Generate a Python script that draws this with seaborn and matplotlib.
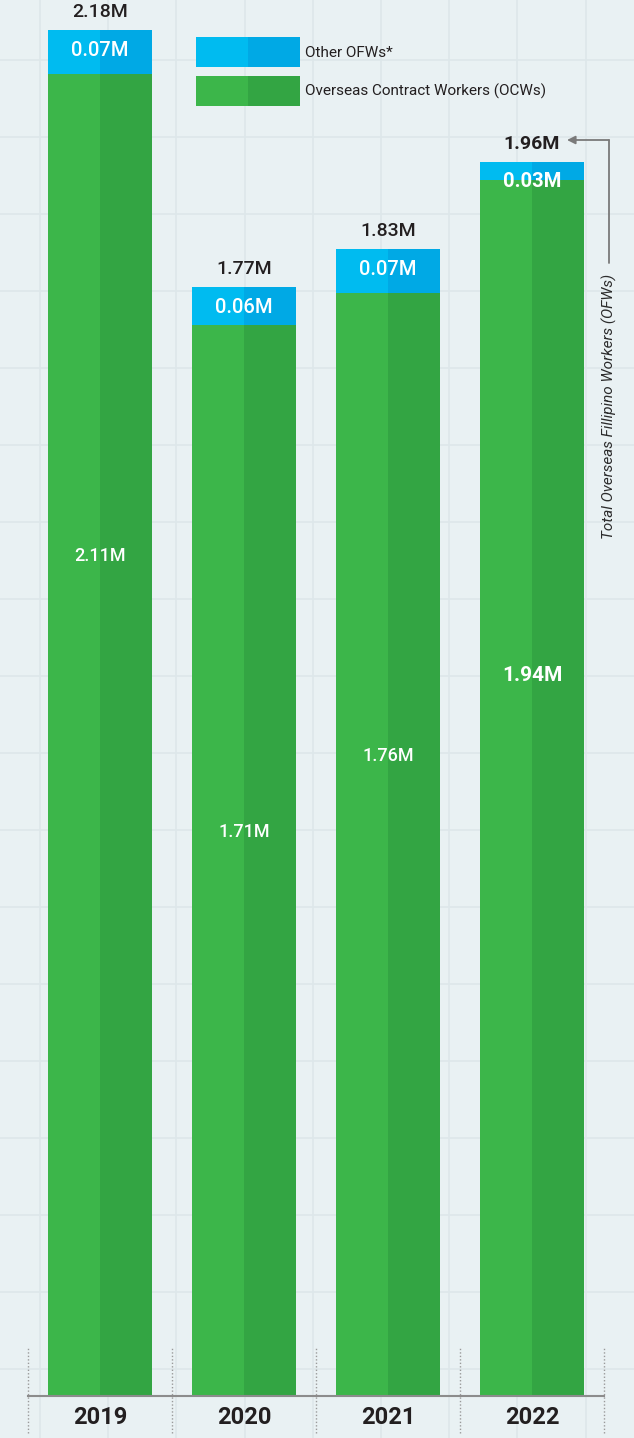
import numpy as np
import pandas as pd
import matplotlib
matplotlib.use("Agg")
import matplotlib.pyplot as plt
import seaborn as sns
from matplotlib.patches import Patch
from matplotlib.legend_handler import HandlerTuple

# ---------------- data ----------------
years = ["2019", "2020", "2021", "2022"]
ocw = [2.11, 1.71, 1.76, 1.94]          # Overseas Contract Workers (M)
other = [0.07, 0.06, 0.07, 0.03]        # Other OFWs (M)
totals = [2.18, 1.77, 1.83, 1.96]       # Total OFWs (M)
legend_labels = ["Other OFWs*", "Overseas Contract Workers (OCWs)"]
side_title = "Total Overseas Fillipino Workers (OFWs)"

# ---------------- style ----------------
W, H, DPI = 634, 1438, 100
BG = "#e9f1f3"
GRID = "#dde7ea"
GREEN_L, GREEN_D = "#3cb64a", "#33a543"
BLUE_L, BLUE_D = "#00bbf0", "#00a9e5"
DARK = "#231f20"
FONT = ["Roboto", "DejaVu Sans"]
OCW_LABEL_FRAC = [0.635, 0.526, 0.580, 0.593]

sns.set_theme(style="white")
plt.rcParams["font.family"] = FONT

fig = plt.figure(figsize=(W / DPI, H / DPI), dpi=DPI)
fig.patch.set_facecolor(BG)

# background grid (decorative, pixel space)
bg = fig.add_axes([0, 0, 1, 1], zorder=0)
bg.set_facecolor(BG)
bg.set_xlim(0, W)
bg.set_ylim(H, 0)
for gx in np.arange(40, W, 68.2):
    bg.axvline(gx, color=GRID, lw=1.2)
for gy in np.arange(60, H, 77.0):
    bg.axhline(gy, color=GRID, lw=1.2)
bg.set_axis_off()

# main axes: x from 28px to 604px, baseline at 1396px
px_per_m = 626.6
base_px = 1396
ax = fig.add_axes([28 / W, (H - base_px) / H, 576 / W, base_px / H], zorder=1)
ax.set_facecolor("none")

stack = [o + t for o, t in zip(ocw, other)]
halves = ["L", "R"]
df_top = pd.DataFrame({"year": np.repeat(years, 2), "half": halves * len(years),
                       "value": np.repeat(stack, 2)})
df_ocw = pd.DataFrame({"year": np.repeat(years, 2), "half": halves * len(years),
                       "value": np.repeat(ocw, 2)})

sns.barplot(data=df_top, x="year", y="value", hue="half", hue_order=halves,
            palette=[BLUE_L, BLUE_D], width=0.72, gap=0, dodge=True,
            saturation=1, linewidth=0, legend=False, ax=ax, errorbar=None)
sns.barplot(data=df_ocw, x="year", y="value", hue="half", hue_order=halves,
            palette=[GREEN_L, GREEN_D], width=0.72, gap=0, dodge=True,
            saturation=1, linewidth=0, legend=False, ax=ax, errorbar=None)

ax.set_xlim(-0.5, 3.5)
ax.set_ylim(0, base_px / px_per_m)
ax.set_xlabel("")
ax.set_ylabel("")
ax.set_yticks([])
for s in ["top", "left", "right"]:
    ax.spines[s].set_visible(False)
ax.spines["bottom"].set_color("#8c8c8c")
ax.spines["bottom"].set_linewidth(1.5)
ax.tick_params(axis="x", length=0, pad=7, labelsize=17, labelcolor=DARK)
for lbl in ax.get_xticklabels():
    lbl.set_fontweight("bold")
    lbl.set_family(FONT)

# dotted separators
ax.vlines(np.arange(-0.5, 4.0, 1.0), -37 / px_per_m, 49 / px_per_m,
          colors="#9a9a9a", linestyles=(0, (1, 1.5)), lw=1, clip_on=False)

# labels
for i, y in enumerate(years):
    bold = (y == "2022")
    ax.annotate(f"{totals[i]:.2f}M", (i, stack[i]), xytext=(0, 13), textcoords="offset points",
                ha="center", va="center", fontsize=14, color=DARK,
                fontweight="bold" if bold else "medium", annotation_clip=False)
    ax.annotate(f"{other[i]:.2f}M", (i, stack[i]), xytext=(0, -14.5), textcoords="offset points",
                ha="center", va="center", fontsize=14.5, color="white",
                fontweight="bold" if bold else "medium")
    ax.text(i, ocw[i] * OCW_LABEL_FRAC[i], f"{ocw[i]:.2f}M", ha="center", va="center",
            fontsize=15 if bold else 13, color="white",
            fontweight="bold" if bold else "medium")

# annotation arrow and side title
y_lab = (base_px - 140) / px_per_m
x_corner = 3 + (609 - 532) / 144
ax.plot([x_corner, x_corner], [y_lab, (base_px - 263) / px_per_m], color="#7a7a7a",
        lw=1.3, clip_on=False)
ax.annotate("", xy=(3 + (567 - 532) / 144, y_lab), xytext=(x_corner, y_lab),
            arrowprops=dict(arrowstyle="-|>", color="#7a7a7a", lw=1.3,
                            shrinkA=0, shrinkB=0, mutation_scale=12),
            annotation_clip=False)
ax.text(x_corner, (base_px - 406) / px_per_m, side_title, rotation=90, ha="center",
        va="center", fontsize=11, style="italic", color="#2b2b2b", clip_on=False)

# legend
h_other = (Patch(facecolor=BLUE_L, lw=0), Patch(facecolor=BLUE_D, lw=0))
h_ocw = (Patch(facecolor=GREEN_L, lw=0), Patch(facecolor=GREEN_D, lw=0))
fs_leg = 11
fs_px = fs_leg * DPI / 72
hh = (30 / fs_px - 0.245) / 0.65
leg = ax.legend([h_other, h_ocw], legend_labels,
                handler_map={tuple: HandlerTuple(ndivide=None, pad=0)},
                loc="upper left", bbox_to_anchor=(196 / W, 1 - 37 / H),
                bbox_transform=fig.transFigure, frameon=False, fontsize=fs_leg,
                handlelength=104 / fs_px, handleheight=hh,
                labelspacing=9 / fs_px, handletextpad=5 / fs_px,
                borderpad=0, borderaxespad=0)
for t in leg.get_texts():
    t.set_color(DARK)

fig.savefig("out.png", dpi=DPI, facecolor=BG)
